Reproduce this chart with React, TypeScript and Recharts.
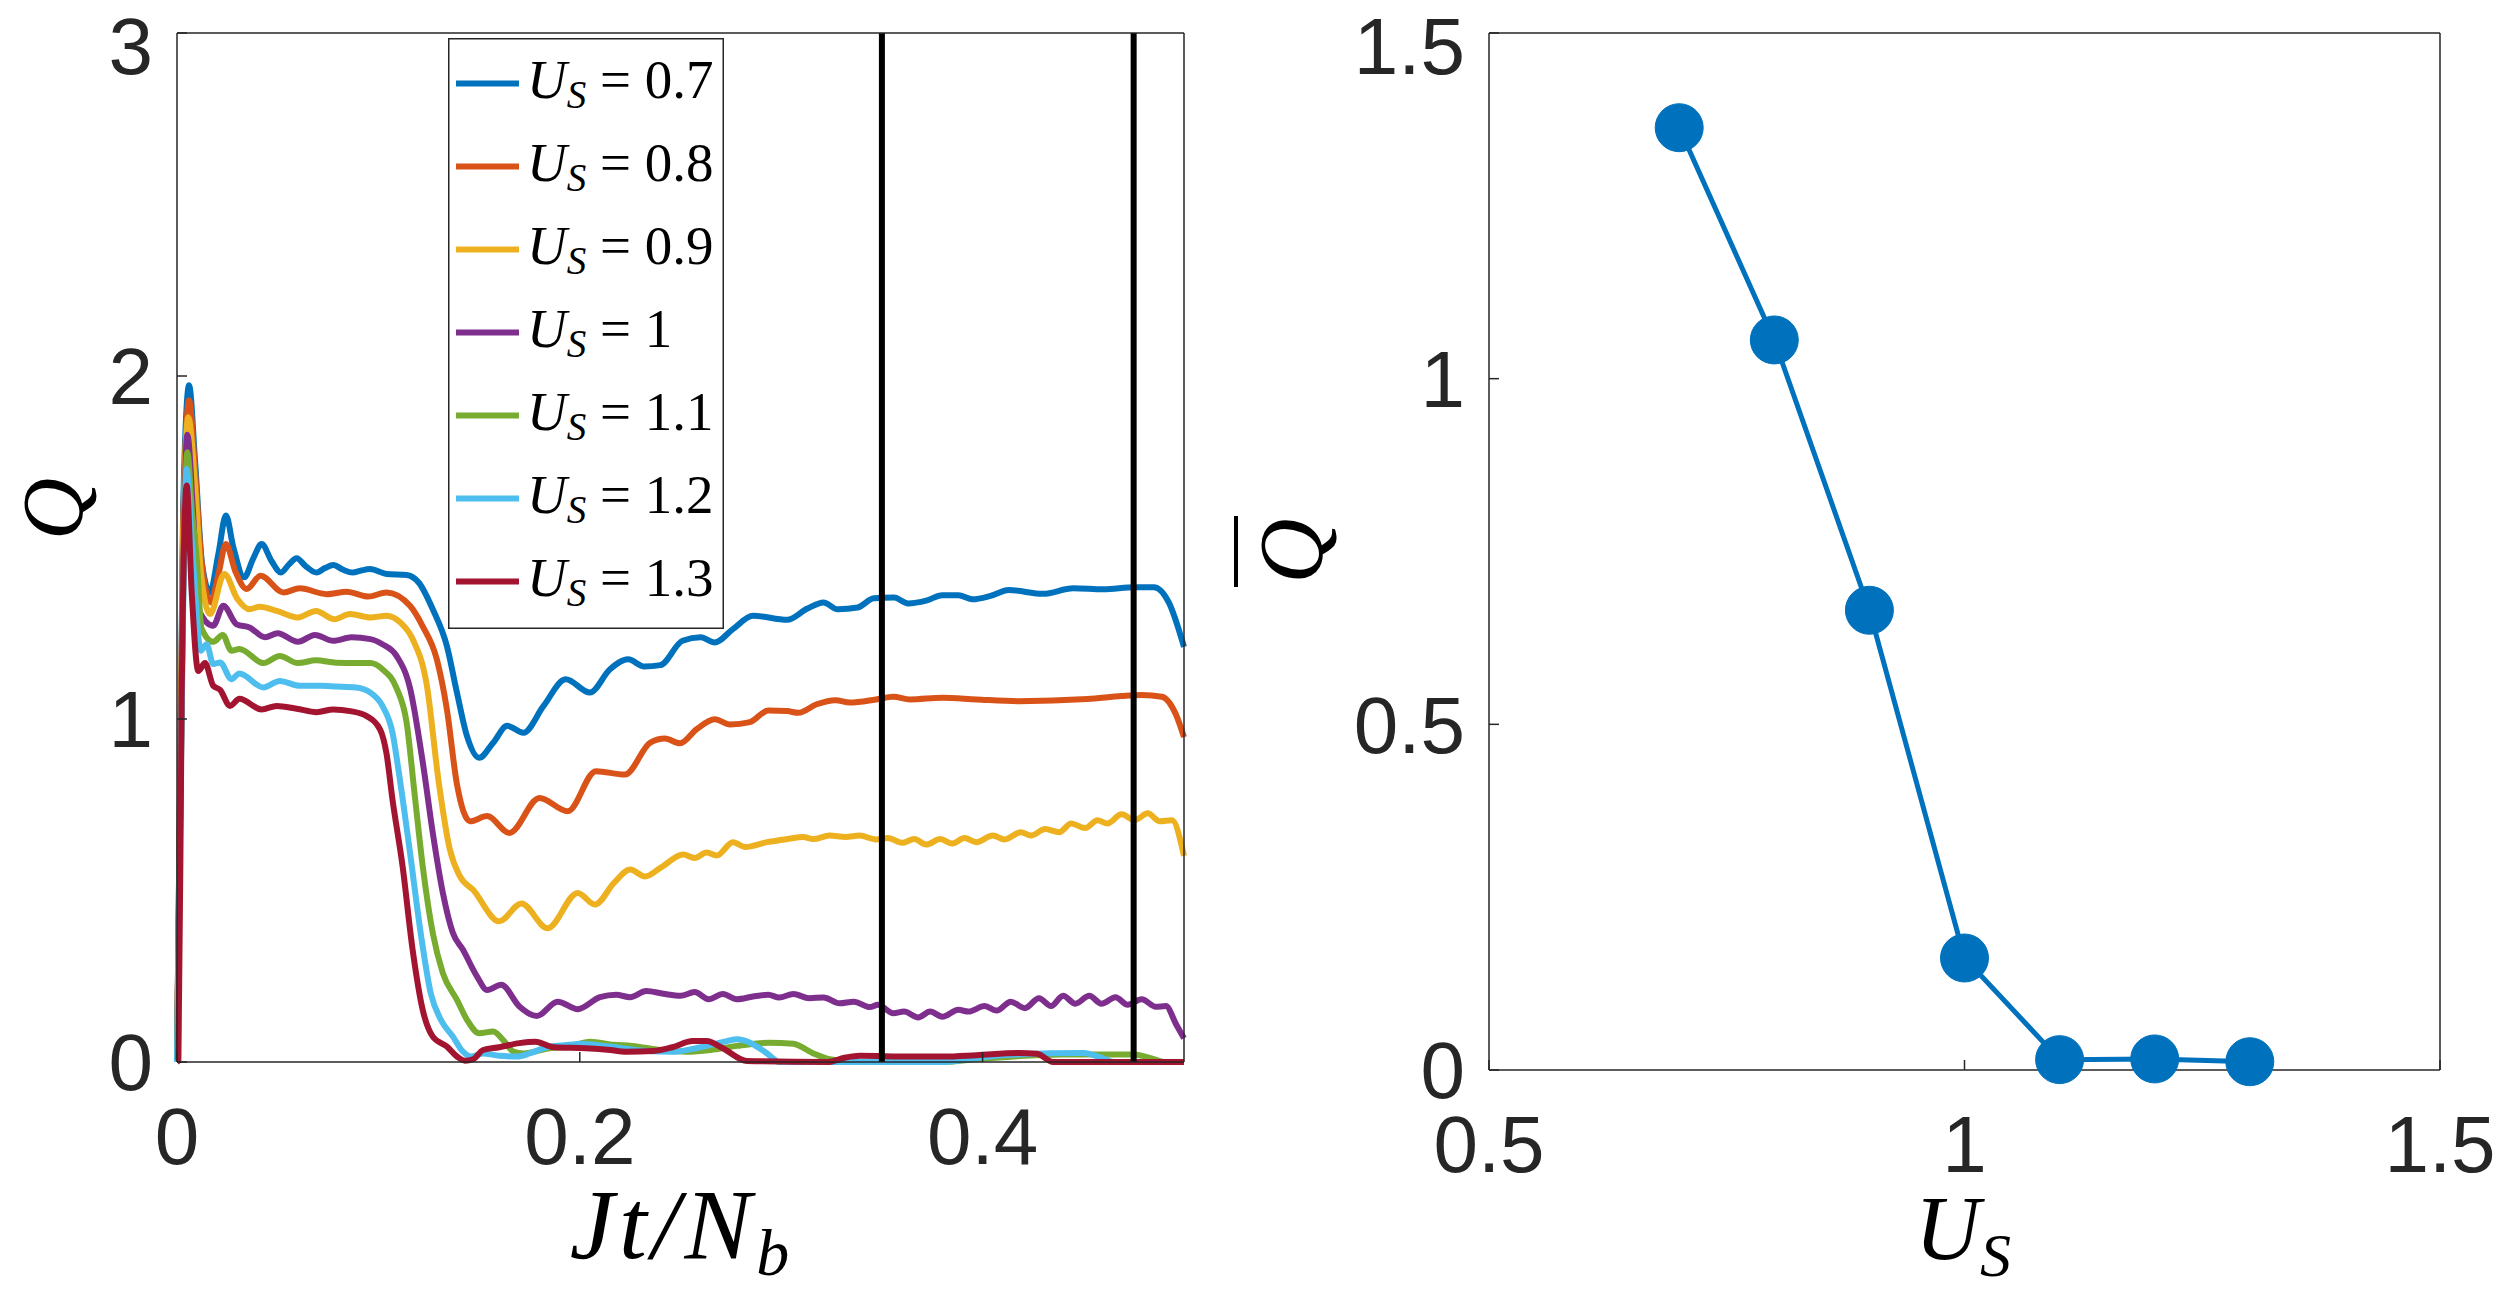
import React from 'react';
import { LineChart, Line, XAxis, YAxis, ReferenceLine, Legend } from 'recharts';

// U_S values shared by both panels
const uValues = [0.7, 0.8, 0.9, 1, 1.1, 1.2, 1.3];
const lineColors = ['#0072BD', '#D95319', '#EDB120', '#7E2F8E', '#77AC30', '#4DBEEE', '#A2142F'];

// Q(t) traces, [Jt/N_b, Q]
const q07: [number, number][] = [
  [0, 0], [0.003, 1.6], [0.006, 1.973], [0.009, 1.75], [0.0125, 1.45], [0.0164, 1.369], [0.0205, 1.48],
  [0.0243, 1.593], [0.028, 1.5], [0.0333, 1.413], [0.038, 1.47], [0.042, 1.51], [0.047, 1.46], [0.0516, 1.427],
  [0.0555, 1.45], [0.0594, 1.469], [0.064, 1.445], [0.0693, 1.427], [0.0735, 1.44], [0.0776, 1.449],
  [0.0825, 1.435], [0.0872, 1.427], [0.0915, 1.433], [0.0958, 1.437], [0.104, 1.423], [0.114, 1.42],
  [0.12, 1.398], [0.127, 1.32], [0.134, 1.213], [0.139, 1.077], [0.144, 0.95], [0.15, 0.887], [0.157, 0.931],
  [0.164, 0.98], [0.172, 0.96], [0.182, 1.038], [0.193, 1.116], [0.205, 1.077], [0.215, 1.145], [0.224, 1.174],
  [0.232, 1.153], [0.24, 1.157], [0.251, 1.228], [0.26, 1.238], [0.267, 1.223], [0.276, 1.262], [0.286, 1.301],
  [0.303, 1.289], [0.313, 1.322], [0.321, 1.34], [0.328, 1.32], [0.338, 1.325], [0.346, 1.352], [0.356, 1.354],
  [0.363, 1.337], [0.372, 1.345], [0.38, 1.361], [0.388, 1.361], [0.395, 1.349], [0.404, 1.359], [0.413, 1.376],
  [0.43, 1.365], [0.445, 1.381], [0.46, 1.378], [0.4755, 1.384], [0.485, 1.384], [0.4925, 1.339], [0.5, 1.21],
];
const q08: [number, number][] = [
  [0, 0], [0.003, 1.55], [0.006, 1.929], [0.009, 1.72], [0.012, 1.47], [0.0167, 1.34], [0.0205, 1.42],
  [0.0243, 1.51], [0.029, 1.43], [0.0346, 1.379], [0.0415, 1.418], [0.0528, 1.369], [0.061, 1.381],
  [0.0743, 1.364], [0.0842, 1.371], [0.095, 1.357], [0.104, 1.369], [0.1157, 1.33], [0.122, 1.27],
  [0.129, 1.174], [0.134, 1.028], [0.139, 0.81], [0.1455, 0.702], [0.154, 0.717], [0.165, 0.668], [0.18, 0.77],
  [0.194, 0.731], [0.208, 0.848], [0.2224, 0.838], [0.235, 0.931], [0.2423, 0.943], [0.2498, 0.929],
  [0.258, 0.97], [0.267, 0.999], [0.2746, 0.984], [0.2845, 0.991], [0.2936, 1.025], [0.303, 1.023],
  [0.3085, 1.018], [0.3176, 1.043], [0.327, 1.055], [0.334, 1.048], [0.347, 1.057], [0.3557, 1.065],
  [0.364, 1.057], [0.38, 1.062], [0.397, 1.057], [0.418, 1.052], [0.452, 1.058], [0.469, 1.067], [0.479, 1.07],
  [0.489, 1.065], [0.496, 1.013], [0.5, 0.947],
];
const q09: [number, number][] = [
  [0, 0], [0.003, 1.5], [0.0056, 1.88], [0.009, 1.68], [0.012, 1.42], [0.0164, 1.306], [0.0235, 1.423],
  [0.03, 1.35], [0.036, 1.32], [0.041, 1.327], [0.0495, 1.315], [0.06, 1.296], [0.069, 1.315], [0.078, 1.291],
  [0.086, 1.306], [0.096, 1.296], [0.104, 1.301], [0.111, 1.281], [0.117, 1.233], [0.124, 1.1], [0.13, 0.814],
  [0.1355, 0.619], [0.1405, 0.541], [0.147, 0.502], [0.16, 0.41], [0.171, 0.462], [0.184, 0.39], [0.199, 0.493],
  [0.2075, 0.459], [0.217, 0.522], [0.225, 0.561], [0.2324, 0.541], [0.24, 0.566], [0.2514, 0.605],
  [0.257, 0.595], [0.263, 0.611], [0.268, 0.602], [0.276, 0.641], [0.282, 0.627], [0.293, 0.641], [0.303, 0.65],
  [0.311, 0.656], [0.316, 0.65], [0.324, 0.66], [0.332, 0.656], [0.339, 0.66], [0.347, 0.649], [0.353, 0.653],
  [0.36, 0.639], [0.366, 0.65], [0.372, 0.634], [0.379, 0.65], [0.385, 0.637], [0.391, 0.653], [0.397, 0.641],
  [0.405, 0.66], [0.411, 0.649], [0.419, 0.67], [0.424, 0.66], [0.431, 0.679], [0.438, 0.67], [0.444, 0.695],
  [0.451, 0.682], [0.457, 0.705], [0.462, 0.695], [0.469, 0.722], [0.4755, 0.705], [0.482, 0.725],
  [0.488, 0.702], [0.494, 0.705], [0.5, 0.601],
];
const q10: [number, number][] = [
  [0, 0], [0.003, 1.4], [0.0051, 1.829], [0.008, 1.6], [0.0106, 1.32], [0.018, 1.272], [0.023, 1.33],
  [0.0296, 1.276], [0.036, 1.267], [0.0437, 1.238], [0.05, 1.25], [0.06, 1.225], [0.0685, 1.245],
  [0.0776, 1.228], [0.0867, 1.238], [0.096, 1.233], [0.102, 1.218], [0.109, 1.184], [0.1157, 1.09],
  [0.1223, 0.863], [0.127, 0.668], [0.132, 0.493], [0.137, 0.376], [0.142, 0.327], [0.149, 0.249], [0.154, 0.21],
  [0.161, 0.225], [0.17, 0.162], [0.1786, 0.134], [0.189, 0.176], [0.199, 0.154], [0.21, 0.189], [0.218, 0.196],
  [0.225, 0.189], [0.233, 0.207], [0.2415, 0.199], [0.25, 0.193], [0.257, 0.204], [0.264, 0.183], [0.271, 0.198],
  [0.278, 0.183], [0.286, 0.191], [0.2936, 0.196], [0.299, 0.188], [0.306, 0.198], [0.314, 0.186],
  [0.321, 0.188], [0.329, 0.171], [0.336, 0.176], [0.344, 0.16], [0.348, 0.167], [0.3557, 0.142],
  [0.361, 0.147], [0.368, 0.13], [0.374, 0.147], [0.38, 0.132], [0.388, 0.152], [0.393, 0.147], [0.401, 0.163],
  [0.407, 0.15], [0.414, 0.176], [0.421, 0.157], [0.428, 0.186], [0.434, 0.163], [0.44, 0.193], [0.446, 0.17],
  [0.453, 0.193], [0.459, 0.17], [0.466, 0.189], [0.472, 0.167], [0.479, 0.183], [0.486, 0.161],
  [0.491, 0.163], [0.496, 0.111], [0.5, 0.069],
];
const q11: [number, number][] = [
  [0, 0], [0.003, 1.35], [0.0051, 1.778], [0.0075, 1.6], [0.0098, 1.466], [0.0122, 1.264], [0.018, 1.225],
  [0.0227, 1.245], [0.027, 1.199], [0.031, 1.204], [0.043, 1.163], [0.051, 1.184], [0.06, 1.163],
  [0.069, 1.171], [0.079, 1.164], [0.089, 1.163], [0.096, 1.163], [0.102, 1.145], [0.109, 1.09], [0.114, 0.99],
  [0.118, 0.78], [0.122, 0.571], [0.127, 0.376], [0.132, 0.259], [0.139, 0.181], [0.144, 0.123], [0.15, 0.084],
  [0.157, 0.089], [0.162, 0.064], [0.167, 0.03], [0.172, 0.025], [0.185, 0.04], [0.195, 0.045], [0.205, 0.059],
  [0.217, 0.05], [0.226, 0.047], [0.24, 0.035], [0.253, 0.03], [0.265, 0.035], [0.278, 0.047], [0.294, 0.056],
  [0.306, 0.053], [0.316, 0.025], [0.324, 0.008], [0.339, 0], [0.38, 0], [0.4, 0.01], [0.44, 0.022],
  [0.475, 0.022], [0.485, 0.008], [0.49, 0], [0.5, 0],
];
const q12: [number, number][] = [
  [0, 0], [0.003, 1.3], [0.0048, 1.729], [0.007, 1.55], [0.009, 1.369], [0.0118, 1.199], [0.0147, 1.218],
  [0.018, 1.16], [0.0214, 1.165], [0.027, 1.116], [0.031, 1.133], [0.0429, 1.092], [0.051, 1.111],
  [0.061, 1.097], [0.071, 1.097], [0.079, 1.095], [0.089, 1.092], [0.096, 1.077], [0.102, 1.038],
  [0.107, 0.96], [0.11, 0.85], [0.1157, 0.61], [0.121, 0.376], [0.126, 0.2], [0.131, 0.123], [0.137, 0.074],
  [0.142, 0.03], [0.146, 0.016], [0.152, 0.025], [0.16, 0.018], [0.169, 0.016], [0.175, 0.025], [0.185, 0.045],
  [0.195, 0.05], [0.2, 0.053], [0.215, 0.045], [0.2316, 0.033], [0.2465, 0.03], [0.26, 0.043], [0.273, 0.061],
  [0.278, 0.066], [0.285, 0.055], [0.293, 0.025], [0.299, 0], [0.38, 0], [0.395, 0.01], [0.41, 0.02],
  [0.45, 0.026], [0.46, 0.01], [0.465, 0], [0.5, 0],
];
const q13: [number, number][] = [
  [0, 0], [0.0007, 0.006], [0.0023, 1.057], [0.0048, 1.681], [0.0073, 1.369], [0.0106, 1.14], [0.0139, 1.163],
  [0.018, 1.097], [0.0214, 1.085], [0.0263, 1.038], [0.031, 1.059], [0.042, 1.028], [0.0495, 1.038],
  [0.0594, 1.03], [0.0693, 1.02], [0.0776, 1.028], [0.086, 1.023], [0.094, 1.009], [0.1008, 0.97],
  [0.104, 0.9], [0.107, 0.765], [0.112, 0.571], [0.117, 0.327], [0.122, 0.152], [0.127, 0.074], [0.134, 0.045],
  [0.139, 0.016], [0.143, 0.004], [0.147, 0.008], [0.152, 0.035], [0.16, 0.043], [0.17, 0.055], [0.178, 0.059],
  [0.187, 0.043], [0.203, 0.04], [0.215, 0.035], [0.223, 0.03], [0.2365, 0.032], [0.246, 0.043],
  [0.256, 0.061], [0.263, 0.061], [0.271, 0.04], [0.283, 0.003], [0.323, 0], [0.332, 0.013], [0.339, 0.018],
  [0.364, 0.016], [0.381, 0.016], [0.397, 0.02], [0.418, 0.026], [0.427, 0.024], [0.435, 0], [0.5, 0],
];
const qSeries = [q07, q08, q09, q10, q11, q12, q13];

const markTimes = [0.35, 0.475];
const timeTicks = [0, 0.2, 0.4];
const qTicks = [0, 1, 2, 3];

// time-averaged Q per U_S
const qBar = [1.363, 1.056, 0.665, 0.162, 0.015, 0.016, 0.012];
const usTicks = [0.5, 1, 1.5];
const qBarTicks = [0, 0.5, 1, 1.5];

const toPoints = (pairs: [number, number][]) => pairs.map(([t, q]) => ({ t, q }));
const avgData = uValues.map((u, i) => ({ u, q: qBar[i] }));

const INK = '#262626';
const SERIF = '"Liberation Serif", "Times New Roman", serif';
const tickStyle = { fill: INK, fontSize: 80, fontFamily: '"Liberation Sans", Arial, sans-serif' };

function LegendBox() {
  return (
    <svg width={276} height={591}>
      <rect x={0.75} y={0.75} width={274.5} height={589.5} fill="#fff" stroke={INK} strokeWidth={1.5} />
      {uValues.map((u, i) => {
        const cy = 45.5 + i * 83;
        return (
          <g key={u}>
            <line x1={8} x2={71} y1={cy} y2={cy} stroke={lineColors[i]} strokeWidth={6} />
            <text x={79} y={cy + 14} fontFamily={SERIF} fontSize={55} fill="#000">
              <tspan fontStyle="italic">U</tspan>
              <tspan fontStyle="italic" fontSize={39} dy={10}>S</tspan>
              <tspan dy={-10}>{' = ' + u}</tspan>
            </text>
          </g>
        );
      })}
    </svg>
  );
}

function TimeChart() {
  return (
    <LineChart width={1200} height={1293} margin={{ top: 32, right: 15, bottom: 0, left: 77 }}>
      <XAxis
        xAxisId="b"
        dataKey="t"
        type="number"
        domain={[0, 0.5]}
        ticks={timeTicks}
        height={231}
        tickSize={-10}
        tickMargin={55}
        stroke={INK}
        strokeWidth={1.5}
        tick={tickStyle}
        label={() => (
          <text x={682} y={1258} textAnchor="middle" fontFamily={SERIF} fontStyle="italic" fontSize={100}
            letterSpacing={5} fill="#000">
            <tspan>Jt/N</tspan>
            <tspan fontSize={66} dy={17}>b</tspan>
          </text>
        )}
      />
      <XAxis xAxisId="top" orientation="top" type="number" domain={[0, 0.5]} ticks={timeTicks} height={1}
        tickSize={-10} tick={false} stroke={INK} strokeWidth={1.5} />
      <YAxis
        yAxisId="l"
        type="number"
        domain={[0, 3]}
        ticks={qTicks}
        width={100}
        tickSize={-10}
        tickMargin={34}
        stroke={INK}
        strokeWidth={1.5}
        tick={tickStyle}
        label={() => (
          <text x={82} y={509} transform="rotate(-90 82 509)" textAnchor="middle" fontFamily={SERIF}
            fontStyle="italic" fontSize={86} fill="#000">Q</text>
        )}
      />
      <YAxis yAxisId="right" orientation="right" type="number" domain={[0, 3]} ticks={qTicks} width={1}
        tickSize={-10} tick={false} stroke={INK} strokeWidth={1.5} />
      {qSeries.map((s, i) => (
        <Line
          key={uValues[i]}
          xAxisId="b"
          yAxisId="l"
          data={toPoints(s)}
          dataKey="q"
          name={String(uValues[i])}
          type="monotone"
          stroke={lineColors[i]}
          strokeWidth={6}
          dot={false}
          activeDot={false}
          isAnimationActive={false}
        />
      ))}
      {markTimes.map((t) => (
        <ReferenceLine key={t} xAxisId="b" yAxisId="l" x={t} stroke="#000" strokeWidth={6} />
      ))}
      <Legend
        layout="vertical"
        align="center"
        verticalAlign="middle"
        content={() => <LegendBox />}
        wrapperStyle={{ left: 448, top: 38, width: 276, height: 591 }}
      />
    </LineChart>
  );
}

function AverageChart() {
  return (
    <LineChart width={1294} height={1293} data={avgData} margin={{ top: 32, right: 53, bottom: 0, left: 189 }}>
      <XAxis
        dataKey="u"
        type="number"
        domain={[0.5, 1.5]}
        ticks={usTicks}
        height={223}
        tickSize={-10}
        tickMargin={55}
        stroke={INK}
        strokeWidth={1.5}
        tick={tickStyle}
        label={() => (
          <text x={763} y={1259} textAnchor="middle" fontFamily={SERIF} fontStyle="italic" fontSize={90} fill="#000">
            <tspan>U</tspan>
            <tspan fontSize={62} dy={17}>S</tspan>
          </text>
        )}
      />
      <XAxis xAxisId="top" orientation="top" type="number" domain={[0.5, 1.5]} ticks={usTicks} height={1}
        tickSize={-10} tick={false} stroke={INK} strokeWidth={1.5} />
      <YAxis
        type="number"
        domain={[0, 1.5]}
        ticks={qBarTicks}
        width={100}
        tickSize={-10}
        tickMargin={34}
        stroke={INK}
        strokeWidth={1.5}
        tick={tickStyle}
        label={() => (
          <g>
            <text x={122} y={551} transform="rotate(-90 122 551)" textAnchor="middle" fontFamily={SERIF}
              fontStyle="italic" fontSize={90} fill="#000">Q</text>
            <line x1={36} x2={36} y1={516} y2={587} stroke="#000" strokeWidth={4} />
          </g>
        )}
      />
      <YAxis yAxisId="right" orientation="right" type="number" domain={[0, 1.5]} ticks={qBarTicks} width={1}
        tickSize={-10} tick={false} stroke={INK} strokeWidth={1.5} />
      <Line
        dataKey="q"
        type="linear"
        stroke="#0072BD"
        strokeWidth={5}
        dot={{ r: 24, fill: '#0072BD', stroke: '#0072BD', strokeWidth: 1 }}
        activeDot={false}
        isAnimationActive={false}
      />
    </LineChart>
  );
}

export default function App() {
  return (
    <div style={{ position: 'absolute', left: 0, top: 0, width: 2494, height: 1293, background: '#fff' }}>
      <div style={{ position: 'absolute', left: 0, top: 0 }}>
        <TimeChart />
      </div>
      <div style={{ position: 'absolute', left: 1200, top: 0 }}>
        <AverageChart />
      </div>
    </div>
  );
}
